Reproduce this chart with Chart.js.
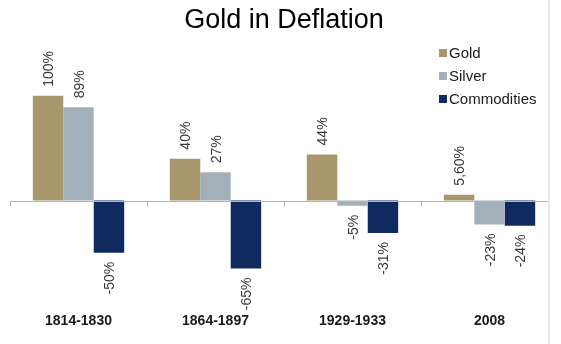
<!DOCTYPE html>
<html>
<head>
<meta charset="utf-8">
<script src="https://cdn.jsdelivr.net/npm/chart.js@4.4.0/dist/chart.umd.min.js"></script>
<style>
  html, body { margin: 0; padding: 0; background: #ffffff; }
  #wrap { width: 561px; height: 344px; position: relative; }
</style>
</head>
<body>
<div id="wrap"><canvas id="c" width="561" height="344"></canvas></div>
<script>
const categories = ['1814-1830', '1864-1897', '1929-1933', '2008'];
const gold = [100, 40, 44, 5.6];
const silver = [89, 27, -5, -23];
const commodities = [-50, -65, -31, -24];
const seriesNames = ['Gold', 'Silver', 'Commodities'];
const seriesColors = ['#a8976c', '#a3afb9', '#0f2a5e'];

const FONT = '"Liberation Sans", Arial, Helvetica, sans-serif';

function fmt(v) {
  return (Number.isInteger(v) ? String(v) : v.toFixed(2).replace('.', ',')) + '%';
}

const decorPlugin = {
  id: 'decor',
  afterDatasetsDraw(chart) {
    const ctx = chart.ctx;
    const xs = chart.scales.x, ys = chart.scales.y;
    const y0 = Math.round(ys.getPixelForValue(0)) + 0.5;
    const area = chart.chartArea;
    ctx.save();
    // zero line
    ctx.strokeStyle = '#b4b4b4';
    ctx.lineWidth = 1;
    ctx.beginPath();
    ctx.moveTo(area.left, y0);
    ctx.lineTo(area.right, y0);
    ctx.stroke();
    // category boundary ticks
    const w = xs.getPixelForValue(1) - xs.getPixelForValue(0);
    for (let i = 0; i < categories.length; i++) {
      const x = Math.round(xs.getPixelForValue(i) - w / 2) + 0.5;
      ctx.beginPath();
      ctx.moveTo(x, y0);
      ctx.lineTo(x, y0 + 5);
      ctx.stroke();
    }
    // data labels
    ctx.fillStyle = '#3a3a3a';
    ctx.font = '14px ' + FONT;
    ctx.textBaseline = 'middle';
    chart.data.datasets.forEach((ds, di) => {
      const meta = chart.getDatasetMeta(di);
      meta.data.forEach((bar, i) => {
        const v = ds.data[i];
        ctx.save();
        ctx.translate(bar.x + 1.5, bar.y);
        ctx.rotate(-Math.PI / 2);
        if (v >= 0) {
          ctx.textAlign = 'left';
          ctx.fillText(fmt(v), 9, 0);
        } else {
          ctx.textAlign = 'right';
          ctx.fillText(fmt(v), -9, 0);
        }
        ctx.restore();
      });
    });
    // legend
    ctx.font = '15px ' + FONT;
    ctx.textAlign = 'left';
    ctx.textBaseline = 'middle';
    const lx = 439, ly = 53, step = 23;
    chart.data.datasets.forEach((ds, di) => {
      const y = ly + di * step;
      ctx.fillStyle = ds.backgroundColor;
      ctx.fillRect(lx, y - 4, 8, 8);
      ctx.fillStyle = '#1a1a1a';
      ctx.fillText(ds.label, lx + 10, y + 1);
    });
    // right border of the picture
    ctx.fillStyle = '#ffffff';
    ctx.fillRect(548, 0, 13, chart.height);
    ctx.strokeStyle = '#e2e2e2';
    ctx.lineWidth = 1.5;
    ctx.beginPath();
    ctx.moveTo(549, 0);
    ctx.lineTo(549, chart.height);
    ctx.stroke();
    ctx.restore();
  }
};

new Chart(document.getElementById('c'), {
  type: 'bar',
  data: {
    labels: categories,
    datasets: [
      { label: seriesNames[0], data: gold, backgroundColor: seriesColors[0] },
      { label: seriesNames[1], data: silver, backgroundColor: seriesColors[1] },
      { label: seriesNames[2], data: commodities, backgroundColor: seriesColors[2] }
    ]
  },
  options: {
    responsive: false,
    animation: false,
    devicePixelRatio: 1,
    layout: { padding: { left: 10, right: 3, top: 0, bottom: 6 } },
    datasets: { bar: { categoryPercentage: 0.667, barPercentage: 1.0, borderWidth: 0 } },
    plugins: {
      legend: { display: false },
      tooltip: { enabled: false },
      title: {
        display: true,
        text: 'Gold in Deflation',
        color: '#000000',
        font: { family: FONT, size: 27, weight: 'normal' },
        padding: { top: 4, bottom: 28 }
      }
    },
    scales: {
      x: {
        grid: { display: false, drawTicks: false },
        border: { display: false },
        ticks: { color: '#1a1a1a', font: { family: FONT, size: 14, weight: 'bold' }, padding: 8, maxRotation: 0 }
      },
      y: {
        display: false,
        min: -100,
        max: 130
      }
    }
  },
  plugins: [decorPlugin]
});
</script>
</body>
</html>
